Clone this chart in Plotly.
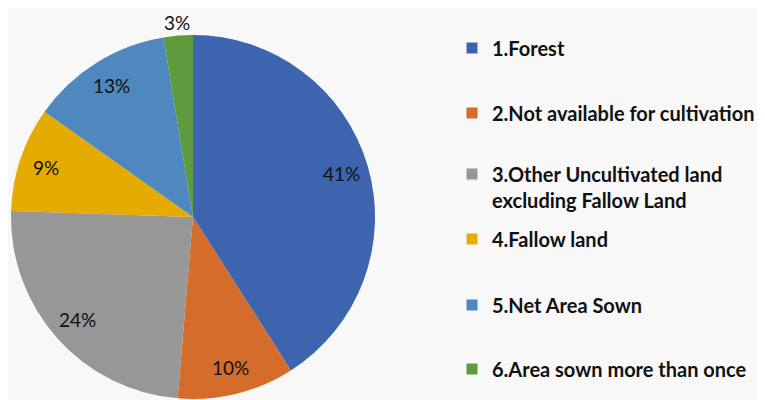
import math
import plotly.graph_objects as go

categories = [
    "1.Forest",
    "2.Not available for cultivation",
    "3.Other Uncultivated land<br>excluding Fallow Land",
    "4.Fallow land",
    "5.Net Area Sown",
    "6.Area sown more than once",
]
values = [41.0, 10.4, 24.2, 9.3, 12.6, 2.6]
colors = ["#3C64AF", "#D46C2C", "#979797", "#E5AB00", "#4E88BE", "#5F9B3E"]

FONT = "Lato"
BG = "#F8F8F8"
TXT = "#111111"

# figure size (page body adds an 8px margin)
W, H = 757, 392
# pie geometry in figure pixels
CX, CY, R = 185, 209, 182

fig = go.Figure()
fig.add_trace(go.Pie(
    labels=categories,
    values=values,
    sort=False,
    direction="clockwise",
    rotation=0,
    marker=dict(colors=colors, line=dict(width=0)),
    textinfo="none",
    showlegend=False,
    domain=dict(x=[(CX - R) / W, (CX + R) / W], y=[1 - (CY + R) / H, 1 - (CY - R) / H]),
    hoverinfo="skip",
))

# percentage labels placed Excel-style along each slice's bisector
total = sum(values)
cum = 0.0
annotations = []
for v in values:
    frac = v / total
    mid = (cum + frac / 2) * 2 * math.pi
    cum += frac
    k = 1.07 if frac < 0.05 else 0.85
    px = CX + k * R * math.sin(mid)
    py = CY - k * R * math.cos(mid)
    annotations.append(dict(
        x=px / W, y=1 - py / H, xref="paper", yref="paper",
        xanchor="center", yanchor="middle",
        text=f"{round(frac * 100)}%", showarrow=False,
        font=dict(family=FONT, size=19, color=TXT),
    ))

# legend entries, one legend per item for Excel-like spacing
centers = [40, 105, 179, 231, 297, 361]
for i, (cat, col) in enumerate(zip(categories, colors)):
    lg = "legend" if i == 0 else f"legend{i+1}"
    fig.add_trace(go.Scatter(
        x=[None], y=[None], mode="markers", name=cat,
        marker=dict(symbol="square", size=11, color=col),
        legend=lg, hoverinfo="skip",
    ))

legend_common = dict(
    x=444 / W, xanchor="left", yanchor="middle",
    bgcolor="rgba(0,0,0,0)", borderwidth=0,
    font=dict(family=FONT, size=20, color=TXT, weight="bold"),
    valign="top",
)
layout_legends = {}
for i, c in enumerate(centers):
    key = "legend" if i == 0 else f"legend{i+1}"
    layout_legends[key] = dict(legend_common, y=1 - c / H)

fig.update_layout(
    width=W, height=H,
    margin=dict(l=0, r=0, t=0, b=0),
    paper_bgcolor=BG, plot_bgcolor=BG,
    xaxis=dict(visible=False), yaxis=dict(visible=False),
    showlegend=True,
    annotations=annotations,
    **layout_legends,
)

fig.write_html("out.html")
